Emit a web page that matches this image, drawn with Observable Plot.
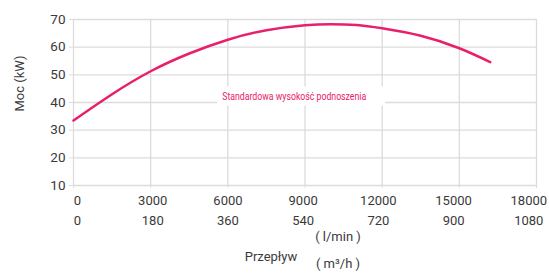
<!DOCTYPE html>
<html><head><meta charset="utf-8">
<script src="https://cdn.jsdelivr.net/npm/d3@7"></script>
<script src="https://cdn.jsdelivr.net/npm/@observablehq/plot@0.6"></script>
<style>
body{margin:0;background:#fff;}
#chart{width:549px;height:274px;overflow:hidden;}
</style>
</head><body><div id="chart"></div>
<script>
// Flow (l/min) and power (kW)
const flowLmin = [0, 1500, 3000, 4500, 6000, 7500, 9000, 10000, 11000, 12000, 13500, 15000, 16200];
const powerKW  = [33.5, 43.0, 51.3, 57.7, 62.7, 66.1, 67.9, 68.3, 68.0, 66.8, 64.1, 59.6, 54.6];

const xTicks   = [0, 3000, 6000, 9000, 12000, 15000, 18000];
const m3hTicks = [0, 180, 360, 540, 720, 900, 1080];
const yTicks   = [10, 20, 30, 40, 50, 60, 70];

const curveLabel = "Standardowa wysokość podnoszenia";
const curveLabelAt = [{flow: 8580, power: 42}];
const yTitle = "Moc (kW)";
const xTitle = "Przepływ";
const unitLmin = "( l/min )";
const unitM3h = "( m³/h )";

const data = flowLmin.map((f, i) => ({flow: f, power: powerKW[i]}));
const m3hOf = new Map(xTicks.map((t, i) => [t, m3hTicks[i]]));

const GRID = "#dcdcdc";
const TXT = "#3a3a3a";
const PINK = "#e8206b";
const FONT = "Roboto, 'Liberation Sans', sans-serif";

const chart = Plot.plot({
  width: 549, height: 274,
  marginLeft: 73, marginRight: 13, marginTop: 19, marginBottom: 89,
  x: {domain: [0, 18000]},
  y: {domain: [10, 70]},
  style: {fontFamily: FONT, fontSize: "13px", color: TXT, background: "#fff"},
  marks: [
    Plot.gridX(xTicks, {stroke: GRID, strokeOpacity: 1, strokeWidth: 1.3}),
    Plot.gridY(yTicks, {stroke: GRID, strokeOpacity: 1, strokeWidth: 1.3}),
    Plot.axisY(yTicks, {tickSize: 4, tickPadding: 4, stroke: GRID, fill: TXT, fontSize: 13.5, label: null}),
    Plot.axisX(xTicks, {tickSize: 3, tickPadding: 7, stroke: GRID, fill: TXT, fontSize: 13, tickFormat: d => String(d), label: null, className: "xrow1"}),
    Plot.axisX(xTicks, {tickSize: 0, tickPadding: 10, dy: 20, fill: TXT, fontSize: 13, tickFormat: d => String(m3hOf.get(d)), label: null, className: "xrow2"}),
    Plot.line(data, {x: "flow", y: "power", stroke: PINK, strokeWidth: 2.5, curve: "natural"}),
    Plot.text([yTitle], {frameAnchor: "left", rotate: -90, dx: -54, dy: 9, fill: TXT, fontSize: 13}),
    Plot.text([xTitle], {frameAnchor: "bottom", dx: -34, dy: 75, fill: TXT, fontSize: 13}),
    Plot.text([unitLmin], {frameAnchor: "bottom", dx: 33, dy: 55, fill: TXT, fontSize: 13}),
    Plot.text([unitM3h], {frameAnchor: "bottom", dx: 33, dy: 82, fill: TXT, fontSize: 13}),
    Plot.text(curveLabelAt, {x: "flow", y: "power", text: () => curveLabel, fill: PINK,
      fontSize: 11, className: "curve-label"})
  ]
});
document.getElementById("chart").appendChild(chart);

// Nudge x tick labels: reference labels are spaced slightly tighter than the grid
for (const cls of [".xrow1", ".xrow2"]) {
  const texts = chart.querySelectorAll(cls + " text");
  texts.forEach((t, i) => {
    const n = texts.length - 1;
    const shift = 4 - 11.7 * (i / n);
    const tr = t.getAttribute("transform") || "";
    t.setAttribute("transform", tr + ` translate(${shift},0)`);
  });
}

// Condense the curve label and put a white box behind it
const lbl = chart.querySelector(".curve-label text");
if (lbl) {
  lbl.setAttribute("textLength", 144);
  lbl.setAttribute("lengthAdjust", "spacingAndGlyphs");
  const bb = lbl.getBBox();
  const g = lbl.parentNode;
  const rect = document.createElementNS("http://www.w3.org/2000/svg", "rect");
  rect.setAttribute("x", bb.x - 5);
  rect.setAttribute("y", bb.y - 4);
  rect.setAttribute("width", bb.width + 24);
  rect.setAttribute("height", bb.height + 6);
  rect.setAttribute("fill", "#fff");
  const tr = lbl.getAttribute("transform");
  if (tr) rect.setAttribute("transform", tr);
  g.insertBefore(rect, lbl);
}
</script>
</body></html>
